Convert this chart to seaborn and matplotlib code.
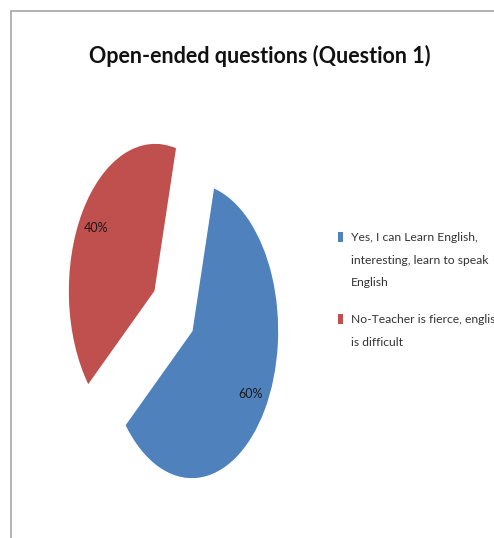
import matplotlib
matplotlib.use('Agg')
import matplotlib.pyplot as plt
import seaborn as sns
from matplotlib.patches import Rectangle

labels = ['Yes, I can Learn English,\ninteresting, learn to speak\nEnglish',
          'No-Teacher is fierce, english\nis difficult']
shares = [60, 40]
colors = ['#4F81BD', '#C0504D']

sns.set_style('white')
plt.rcParams['font.family'] = ['Lato', 'DejaVu Sans']

W, H = 494, 538
fig = plt.figure(figsize=(W / 100, H / 100), dpi=100)

# chart frame (runs off the right and bottom edges)
fig.patches.append(Rectangle((11 / W, -0.1), 1.2, 1.1 - 11 / H,
                             transform=fig.transFigure, fill=False,
                             edgecolor='#a6a6a6', linewidth=1.2))

# pie is drawn squashed horizontally, like the original
cx, cy, rx, ry = 173.5, 311, 87, 148
ax = fig.add_axes([(cx - 1.5 * rx) / W, (H - cy - 1.5 * ry) / H,
                   3 * rx / W, 3 * ry / H])
wedges, _, autotexts = ax.pie(shares, colors=colors, startangle=75.6,
                              counterclock=False, explode=(0.25, 0.25),
                              autopct='%d%%', pctdistance=0.8,
                              textprops={'fontsize': 9, 'color': '#1a1a1a'})
ax.set_aspect('auto')
ax.set_xlim(-1.5, 1.5)
ax.set_ylim(-1.5, 1.5)
ax.axis('off')

fig.text(260 / W, 1 - 56 / H, 'Open-ended questions (Question 1)',
         ha='center', va='center', fontsize=15.5, fontweight='bold',
         color='#111111')

# legend drawn by hand: square marker next to the first line of each entry
legend_top = [237, 319]
for lab, col, yc in zip(labels, colors, legend_top):
    fig.patches.append(Rectangle((338 / W, 1 - (yc + 5) / H), 5 / W, 10 / H,
                                 transform=fig.transFigure, facecolor=col,
                                 edgecolor='none'))
    fig.text(351 / W, 1 - (yc - 5) / H, lab, ha='left', va='top',
             fontsize=8.7, color='#333333', linespacing=2.3)

fig.savefig('out.png', dpi=100)
